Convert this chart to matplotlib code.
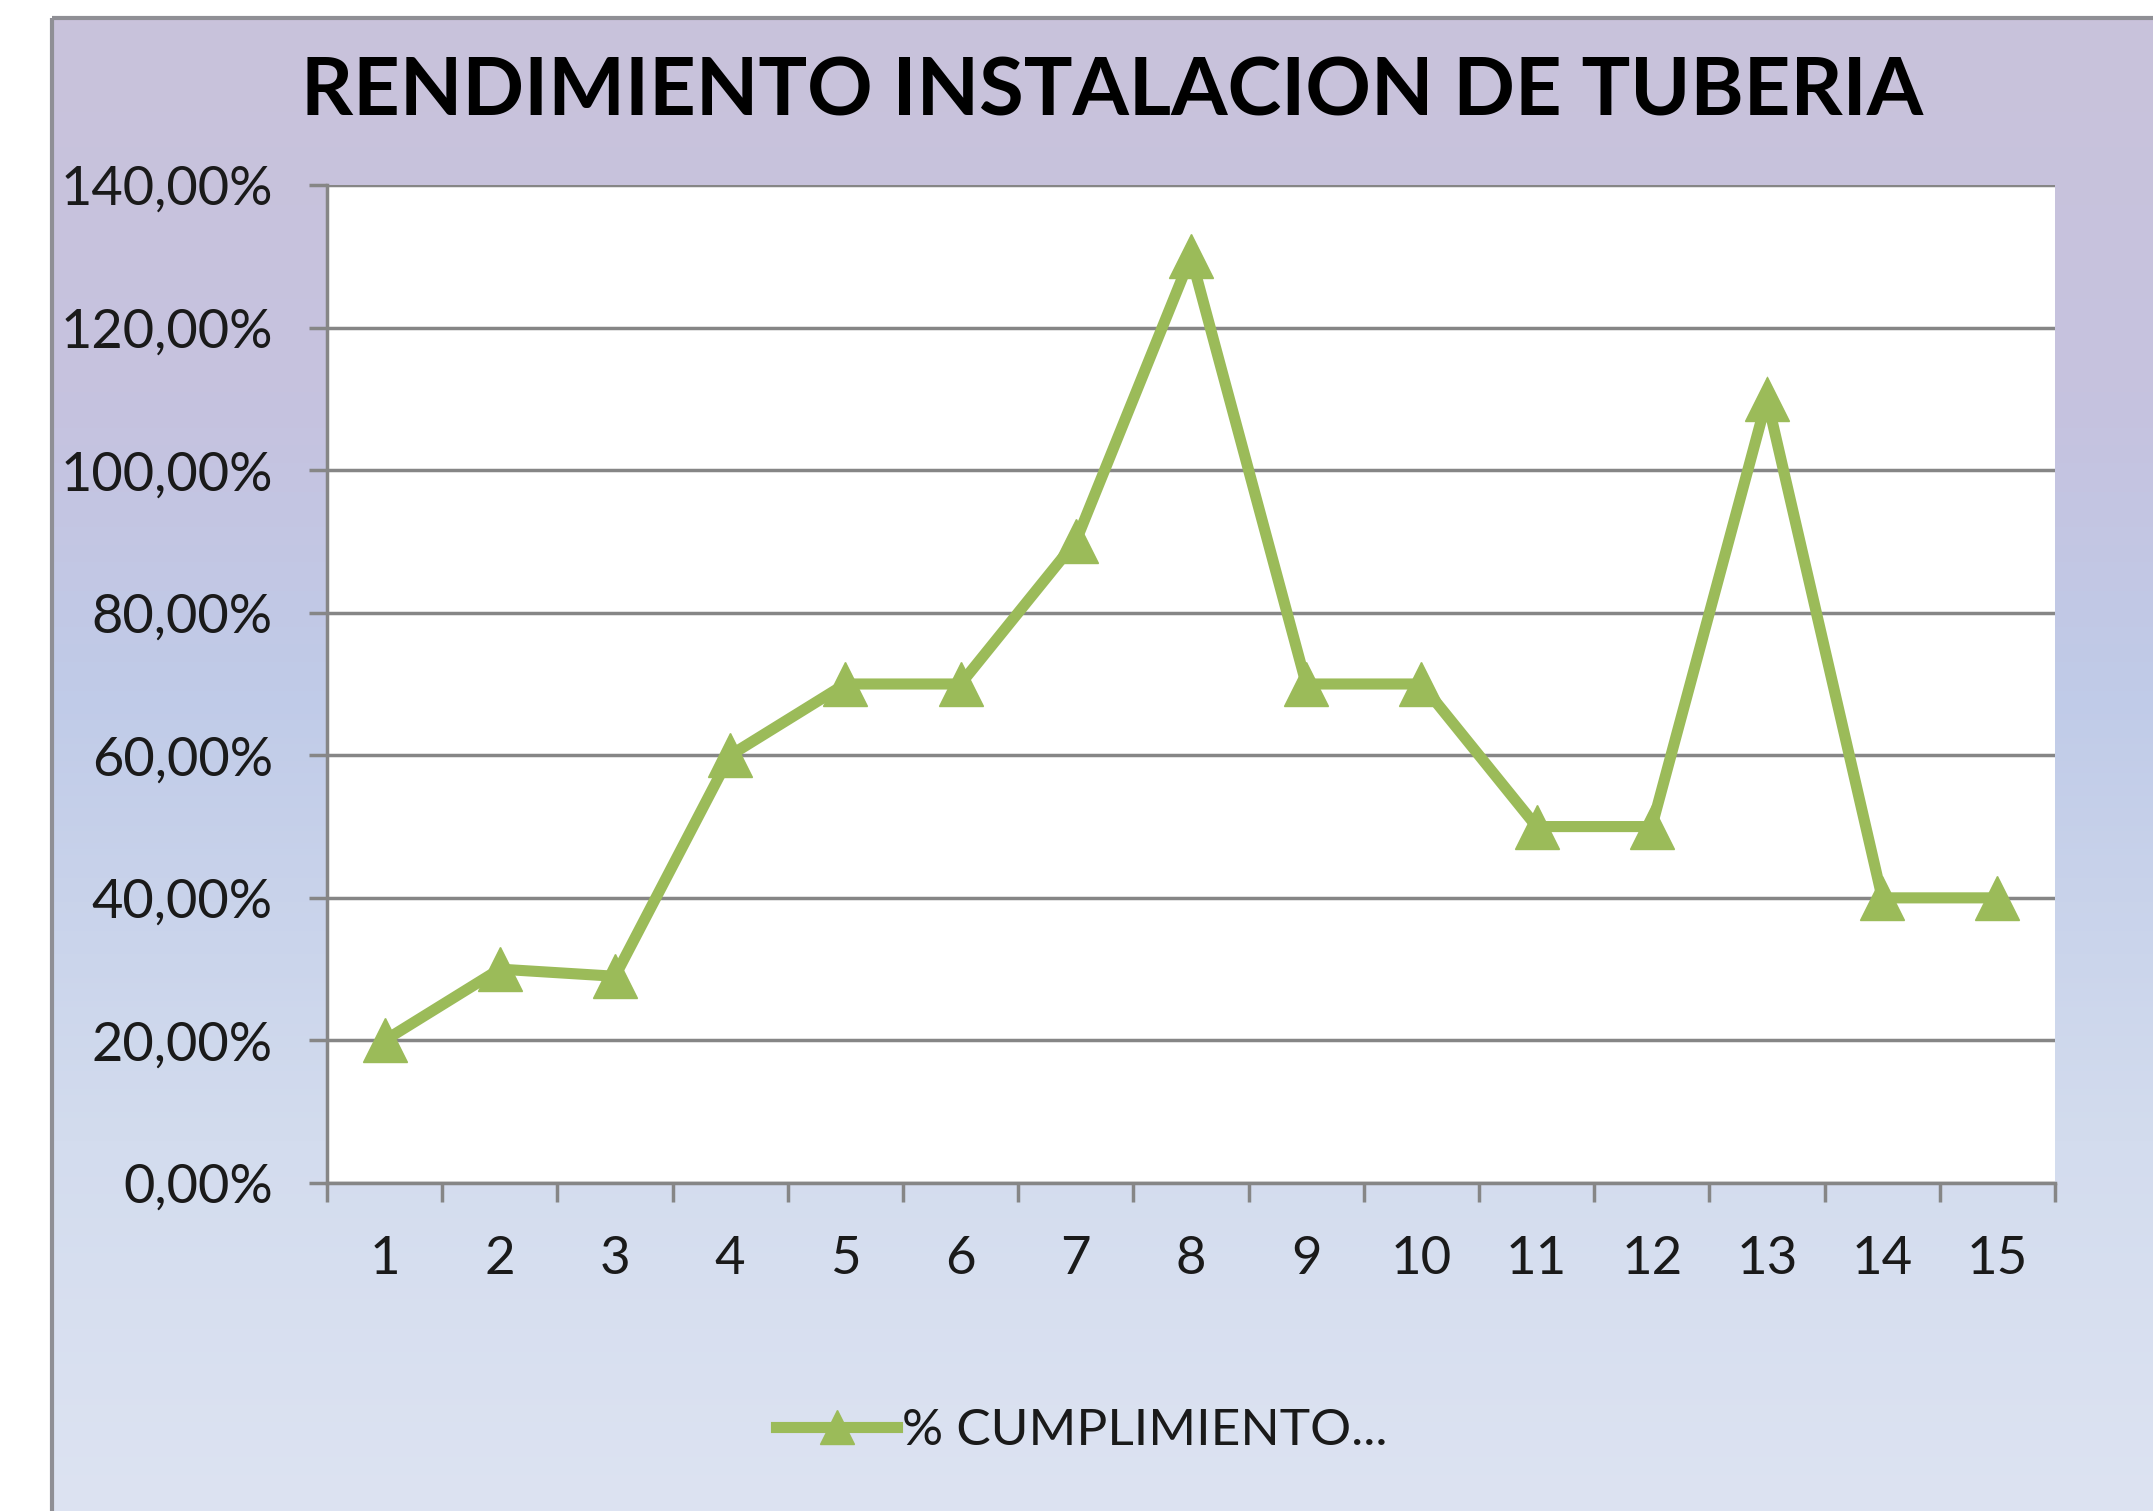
import matplotlib
matplotlib.use('Agg')
import matplotlib.pyplot as plt
import numpy as np
from matplotlib.colors import LinearSegmentedColormap
from matplotlib.patches import Rectangle
from matplotlib.ticker import FuncFormatter, FixedLocator

# data
dias = list(range(1, 16))
cumplimiento = [20, 30, 29, 60, 70, 70, 90, 130, 70, 70, 50, 50, 110, 40, 40]
titulo = 'RENDIMIENTO INSTALACION DE TUBERIA'
serie = '% CUMPLIMIENTO...'


def fmt_pct(v, pos):
    return f'{v:.2f}'.replace('.', ',') + '%'


def main():
    plt.rcParams['font.family'] = ['Lato', 'DejaVu Sans']
    W, H = 2153, 1511
    fig = plt.figure(figsize=(W / 100, H / 100), dpi=100)
    fig.patch.set_facecolor('white')

    # chart area background with vertical gradient
    bg = fig.add_axes([0, 0, 1, 1], zorder=-5)
    bg.set_xlim(0, W)
    bg.set_ylim(H, 0)
    bg.axis('off')
    cmap = LinearSegmentedColormap.from_list('bg', [
        (0.0, '#c9c2db'),
        (0.25, '#c6c2df'),
        (0.45, '#c0cbe8'),
        (0.75, '#d3dcee'),
        (1.0, '#dde3f2'),
    ])
    grad = np.linspace(0, 1, 256).reshape(-1, 1)
    bg.imshow(grad, cmap=cmap, aspect='auto', extent=(52, W + 5, H + 5, 18))
    bg.add_patch(Rectangle((52, 18), W, H, fill=False, edgecolor='#8f8f95', lw=3))

    ax = fig.add_axes([327 / W, 1 - 1183 / H, (2055 - 327) / W, (1183 - 185) / H])
    ax.set_facecolor('white')
    ax.plot(dias, cumplimiento, color='#9bbb59', lw=8, marker='^',
            markersize=32, label=serie, solid_joinstyle='miter', zorder=3)

    ax.set_xlim(0.5, 15.5)
    ax.set_ylim(0, 140)
    ax.yaxis.set_major_locator(FixedLocator(np.arange(0, 141, 20)))
    ax.yaxis.set_major_formatter(FuncFormatter(fmt_pct))
    ax.xaxis.set_major_locator(FixedLocator(np.arange(0.5, 15.6, 1)))
    ax.xaxis.set_major_formatter(FuncFormatter(lambda v, p: ''))
    ax.xaxis.set_minor_locator(FixedLocator(dias))
    ax.xaxis.set_minor_formatter(FuncFormatter(lambda v, p: str(int(round(v)))))
    ax.tick_params(axis='x', which='minor', length=0, labelsize=38, pad=38,
                   labelcolor='#1a1a1a')
    ax.tick_params(axis='x', which='major', length=14, width=2.5, color='#868686')
    ax.tick_params(axis='y', length=13, width=2.5, color='#868686', labelsize=39,
                   pad=26, labelcolor='#1a1a1a')
    ax.grid(axis='y', color='#868686', lw=2.5, zorder=1)
    for s in ['top', 'right']:
        ax.spines[s].set_visible(False)
    ax.spines['left'].set_color('#868686')
    ax.spines['left'].set_linewidth(2.5)
    ax.spines['bottom'].set_color('#868686')
    ax.spines['bottom'].set_linewidth(2.5)

    fig.text(1112 / W, 1 - 93 / H, titulo, ha='center', va='center',
             fontsize=58.5, fontweight='bold', color='black')

    fig.legend(loc='center', bbox_to_anchor=(1082 / W, 1 - 1431 / H),
               frameon=False, fontsize=37, handlelength=2.35, handletextpad=0.1,
               markerscale=0.75, labelcolor='#1a1a1a')

    fig.savefig('out.png', dpi=100)


if __name__ == '__main__':
    main()
